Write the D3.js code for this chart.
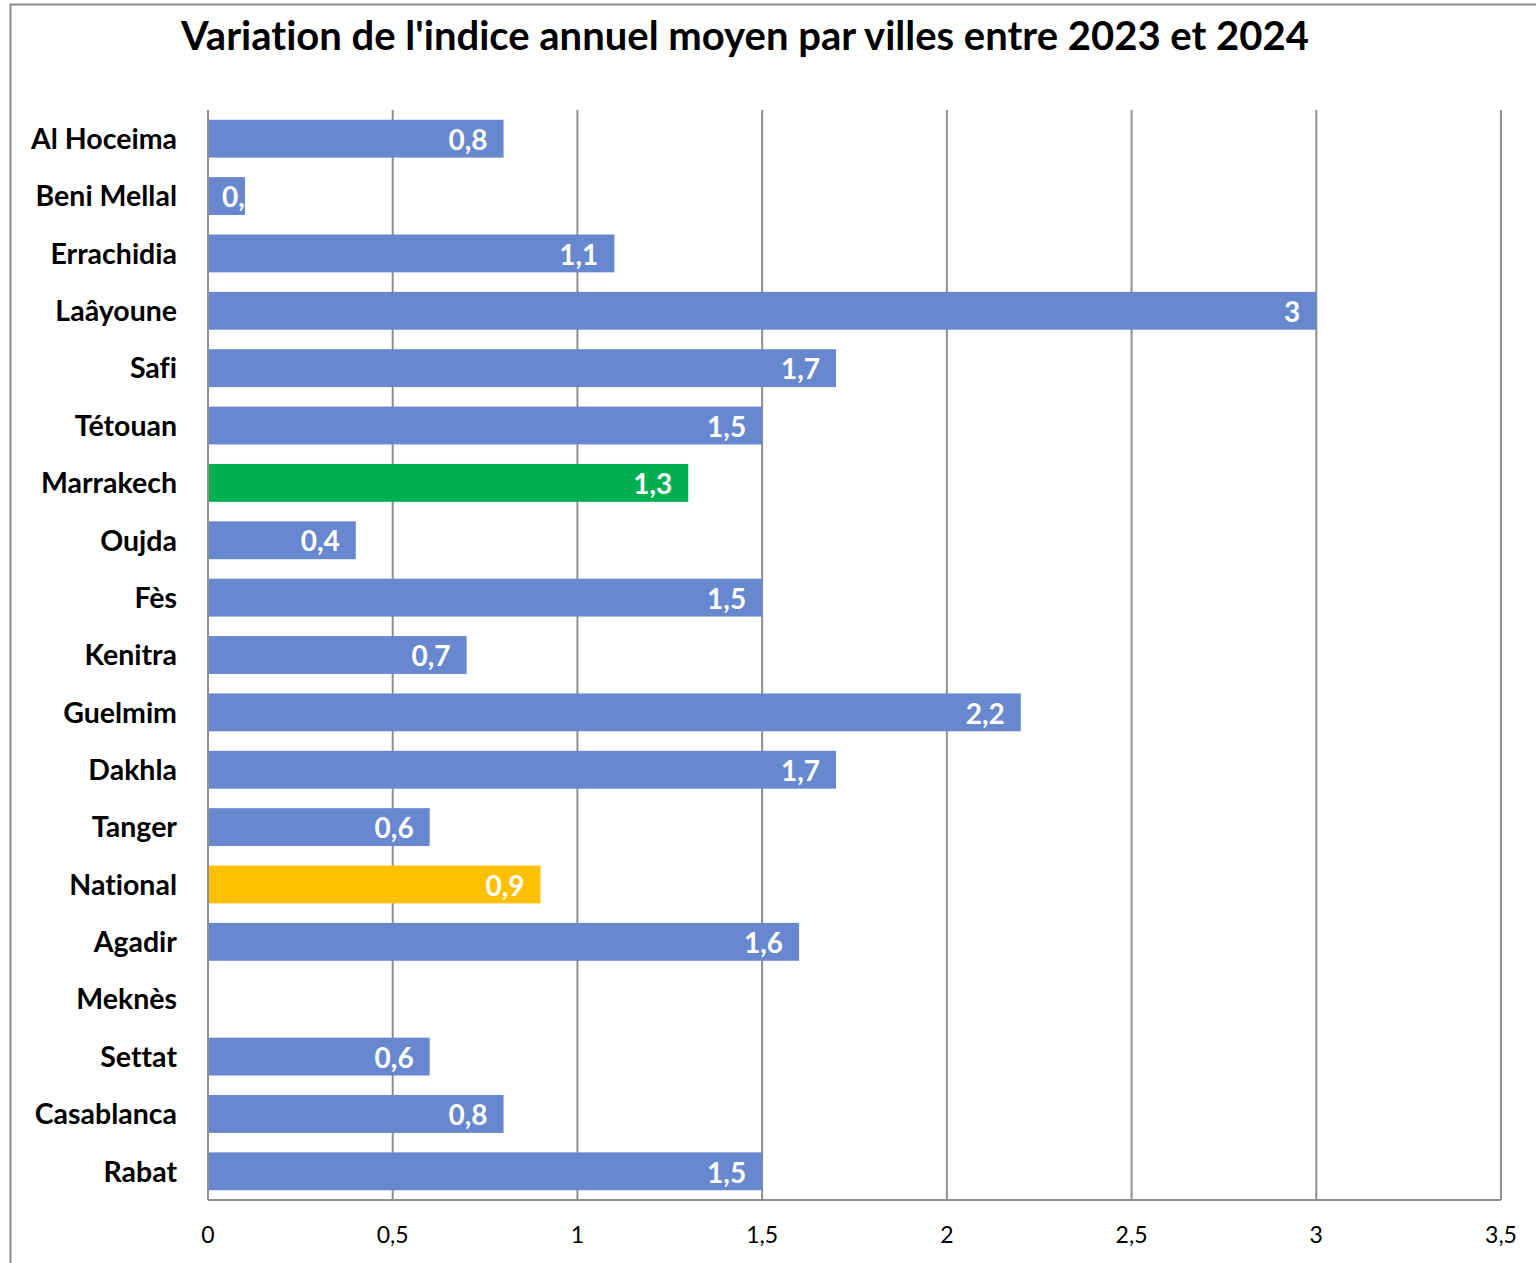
<!DOCTYPE html>
<html>
<head>
<meta charset="utf-8">
<script src="https://cdn.jsdelivr.net/npm/d3@7"></script>
<style>
  body { margin: 0; background: #fff; }
  svg text { font-family: Lato, "Liberation Sans", sans-serif; font-variant-ligatures: none; }
</style>
</head>
<body>
<div id="chart"></div>
<script>
var titleText = "Variation de l'indice annuel moyen par villes entre 2023 et 2024";
var cities = ["Al Hoceima", "Beni Mellal", "Errachidia", "Laâyoune", "Safi", "Tétouan", "Marrakech",
  "Oujda", "Fès", "Kenitra", "Guelmim", "Dakhla", "Tanger", "National", "Agadir", "Meknès",
  "Settat", "Casablanca", "Rabat"];
var values = [0.8, 0.1, 1.1, 3, 1.7, 1.5, 1.3, 0.4, 1.5, 0.7, 2.2, 1.7, 0.6, 0.9, 1.6, null, 0.6, 0.8, 1.5];
var xTicks = [0, 0.5, 1, 1.5, 2, 2.5, 3, 3.5];

var svgWidth = 1536;
var svgHeight = 1263;
var margin = { top: 110, right: 35, bottom: 63, left: 208 };
var width = svgWidth - margin.left - margin.right;
var height = svgHeight - margin.top - margin.bottom;

var fmt = function(v) { return String(v).replace(".", ","); };

var svg = d3.select("#chart")
  .append("svg")
  .attr("width", svgWidth)
  .attr("height", svgHeight);

// outer chart border
svg.append("rect")
  .attr("x", 10.5)
  .attr("y", 4.5)
  .attr("width", svgWidth)
  .attr("height", svgHeight)
  .attr("fill", "none")
  .attr("stroke", "#8c8c8c")
  .attr("stroke-width", 2);

svg.append("text")
  .attr("x", 745)
  .attr("y", 50)
  .attr("text-anchor", "middle")
  .attr("font-size", 40)
  .attr("font-weight", "bold")
  .text(titleText);

var chartGroup = svg.append("g")
  .attr("transform", `translate(${margin.left}, ${margin.top})`);

var xScale = d3.scaleLinear().domain([0, 3.5]).range([0, width]);
var yScale = d3.scaleBand().domain(cities).range([0, height]).paddingInner(0.34).paddingOuter(0.17);

// gridlines
chartGroup.selectAll(".grid")
  .data(xTicks.slice(1))
  .enter()
  .append("line")
  .attr("x1", d => xScale(d))
  .attr("x2", d => xScale(d))
  .attr("y1", 0)
  .attr("y2", height)
  .attr("stroke", "#8f8f8f")
  .attr("stroke-width", 2);

// bars
var barColor = function(c) {
  if (c === "Marrakech") return "#00b050";
  if (c === "National") return "#ffc000";
  return "#6787ce";
};

var rows = cities.map((c, i) => ({ city: c, value: values[i], idx: i }));

var defs = svg.append("defs");
rows.filter(d => d.value != null).forEach(function(d) {
  defs.append("clipPath")
    .attr("id", "clip" + d.idx)
    .append("rect")
    .attr("x", 0)
    .attr("y", yScale(d.city))
    .attr("width", xScale(d.value))
    .attr("height", yScale.bandwidth());
});

var barGroup = chartGroup.selectAll(".bar")
  .data(rows.filter(d => d.value != null))
  .enter()
  .append("g");

barGroup.append("rect")
  .attr("x", 0)
  .attr("y", d => yScale(d.city))
  .attr("width", d => xScale(d.value))
  .attr("height", yScale.bandwidth())
  .attr("fill", d => barColor(d.city));

barGroup.append("text")
  .attr("clip-path", d => `url(#clip${d.idx})`)
  .attr("x", d => d.value < 0.3 ? 14 : xScale(d.value) - 16)
  .attr("y", d => yScale(d.city) + yScale.bandwidth() / 2)
  .attr("dy", "0.4em")
  .attr("text-anchor", d => d.value < 0.3 ? "start" : "end")
  .attr("font-size", 28)
  .attr("font-weight", "bold")
  .attr("fill", "#fff")
  .text(d => fmt(d.value));

// axes lines
chartGroup.append("line")
  .attr("x1", 0).attr("x2", 0).attr("y1", 0).attr("y2", height)
  .attr("stroke", "#8f8f8f").attr("stroke-width", 2);
chartGroup.append("line")
  .attr("x1", 0).attr("x2", width).attr("y1", height).attr("y2", height)
  .attr("stroke", "#8f8f8f").attr("stroke-width", 2);

// category labels
chartGroup.selectAll(".cat")
  .data(cities)
  .enter()
  .append("text")
  .attr("x", -31)
  .attr("y", d => yScale(d) + yScale.bandwidth() / 2)
  .attr("dy", "0.36em")
  .attr("text-anchor", "end")
  .attr("font-size", 28.5)
  .attr("font-weight", "bold")
  .attr("fill", "#000")
  .text(d => d);

// x tick labels
chartGroup.selectAll(".tick-label")
  .data(xTicks)
  .enter()
  .append("text")
  .attr("x", d => xScale(d))
  .attr("y", height + 43)
  .attr("text-anchor", "middle")
  .attr("font-size", 23)
  .attr("fill", "#000")
  .text(d => fmt(d));
</script>
</body>
</html>
